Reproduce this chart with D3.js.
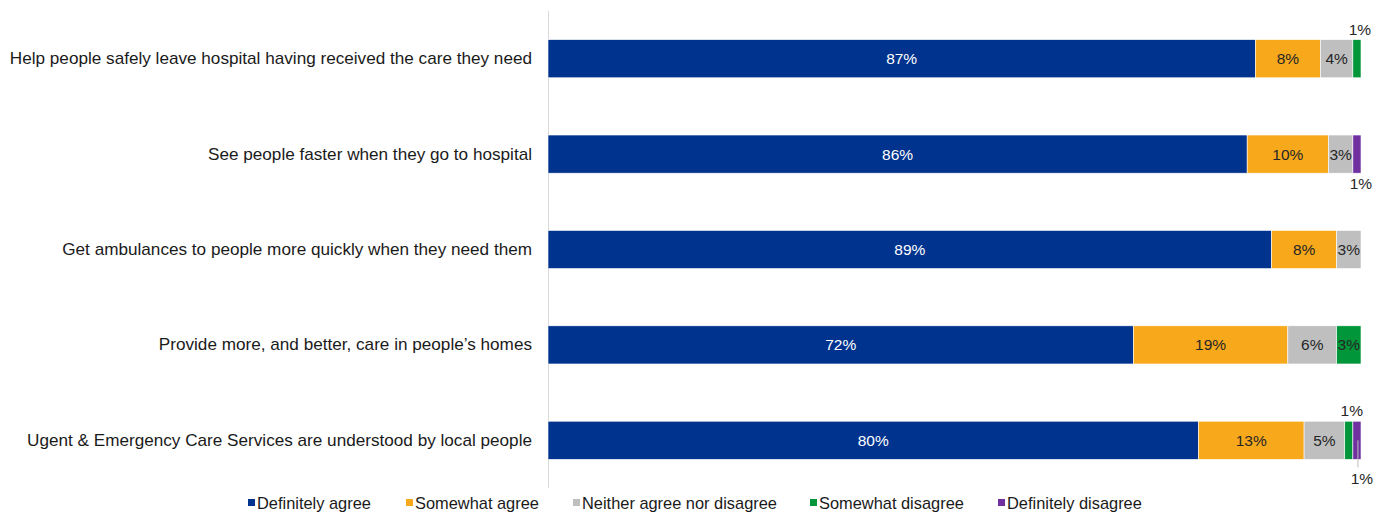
<!DOCTYPE html>
<html><head><meta charset="utf-8">
<script src="https://cdn.jsdelivr.net/npm/d3@7"></script>
<style>body{margin:0;background:#fff}svg{display:block}text{font-family:"Liberation Sans",Arial,sans-serif}</style>
</head><body>
<svg id="c" width="1388" height="513"></svg>
<script>
const categories = [
  "Help people safely leave hospital having received the care they need",
  "See people faster when they go to hospital",
  "Get ambulances to people more quickly when they need them",
  "Provide more, and better, care in people\u2019s homes",
  "Ugent & Emergency Care Services are understood by local people"
];
const seriesNames = ["Definitely agree","Somewhat agree","Neither agree nor disagree","Somewhat disagree","Definitely disagree"];
const definitelyAgree = [87,86,89,72,80];
const somewhatAgree = [8,10,8,19,13];
const neither = [4,3,3,6,5];
const somewhatDisagree = [1,0,0,3,1];
const definitelyDisagree = [0,1,0,0,1];
const colors = ["#00338D","#F7A81B","#BFBFBF","#009639","#7030A0"];
const textColors = ["#ffffff","#262626","#262626","#262626","#262626"];
// outside label placement for tiny segments: [row, series, position]
const outsideLabels = [[0,3,"above"],[1,4,"below"],[4,3,"above"],[4,4,"belowLeader"]];

const values = [definitelyAgree, somewhatAgree, neither, somewhatDisagree, definitelyDisagree];
const rows = categories.map((c,i)=>{const o={cat:c}; seriesNames.forEach((s,j)=>o[s]=values[j][i]); return o;});
const stack = d3.stack().keys(seriesNames)(rows);

const svg = d3.select("#c");
const x = d3.scaleLinear().domain([0,100]).range([548,1361]);
const y = d3.scaleBand().domain(categories).range([11,488]).paddingInner(0.6).paddingOuter(0.3);
const VFS = 15.5;

// axis line
svg.append("line").attr("x1",548.5).attr("x2",548.5).attr("y1",11).attr("y2",488).attr("stroke","#d9d9d9");

const g = svg.append("g");
stack.forEach((layer,j)=>{
  g.selectAll(null).data(layer).enter().append("rect")
    .attr("x",d=>x(d[0])).attr("width",d=>x(d[1])-x(d[0]))
    .attr("y",d=>y(d.data.cat)).attr("height",y.bandwidth())
    .attr("fill",colors[j]).attr("stroke","#ffffff").attr("stroke-width",0.6);
});

const isOutside=(i,j)=>outsideLabels.find(o=>o[0]===i&&o[1]===j);
stack.forEach((layer,j)=>{
  layer.forEach((d,i)=>{
    const v=d[1]-d[0]; if(v<=0) return;
    const cx=(x(d[0])+x(d[1]))/2, cy=y(d.data.cat)+y.bandwidth()/2;
    const o=isOutside(i,j);
    if(o){
      if(o[2]==="above"){
        svg.append("text").attr("x",cx+3).attr("y",y(d.data.cat)-5).attr("text-anchor","middle")
          .attr("font-size",VFS).attr("fill","#262626").text(v+"%");
      } else if(o[2]==="below"){
        svg.append("text").attr("x",cx+4).attr("y",y(d.data.cat)+y.bandwidth()+16).attr("text-anchor","middle")
          .attr("font-size",VFS).attr("fill","#262626").text(v+"%");
      } else {
        svg.append("line").attr("x1",cx+1).attr("x2",cx+1).attr("y1",cy).attr("y2",y(d.data.cat)+y.bandwidth()+8)
          .attr("stroke","#bfbfbf").attr("stroke-width",1);
        svg.append("text").attr("x",cx+5).attr("y",y(d.data.cat)+y.bandwidth()+25).attr("text-anchor","middle")
          .attr("font-size",VFS).attr("fill","#262626").text(v+"%");
      }
    } else {
      svg.append("text").attr("x",cx).attr("y",cy+5.5).attr("text-anchor","middle")
        .attr("font-size",VFS).attr("fill",textColors[j]).text(v+"%");
    }
  });
});

// category labels
const ax = svg.append("g").attr("transform","translate(548,0)")
  .call(d3.axisLeft(y).tickSize(0).tickPadding(16));
ax.select(".domain").remove();
ax.selectAll("text").attr("font-size",17.15).attr("fill","#1a1a1a").attr("font-family","Liberation Sans, Arial, sans-serif");

// legend
const legX=[248,406,573,810,998];
const leg = svg.append("g");
seriesNames.forEach((s,j)=>{
  leg.append("rect").attr("x",legX[j]).attr("y",499).attr("width",7).attr("height",7).attr("fill",colors[j]);
  leg.append("text").attr("x",legX[j]+9).attr("y",509).attr("font-size",16.4).attr("fill","#1a1a1a").text(s);
});
</script>
</body></html>
